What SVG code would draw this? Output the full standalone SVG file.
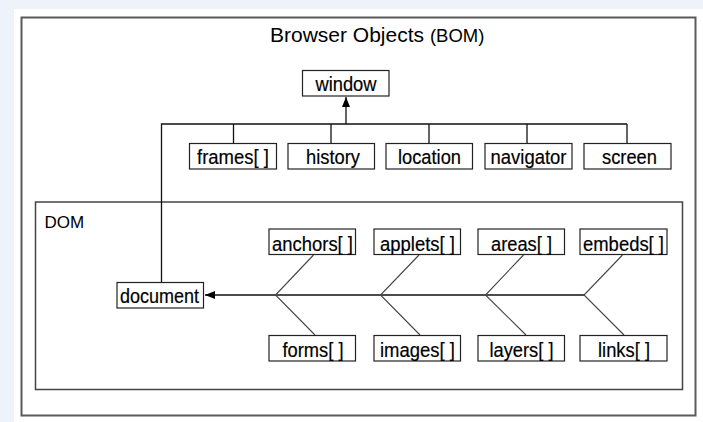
<svg xmlns="http://www.w3.org/2000/svg" width="703" height="422" viewBox="0 0 703 422">
<style>
.bx{fill:#fff;stroke:#222;stroke-width:1.2}
.t{font-family:"Liberation Sans",Arial,sans-serif;font-size:20.5px;fill:#000;stroke:#000;stroke-width:0.2;text-anchor:middle}
.ln{stroke:#111;stroke-width:1.3;fill:none}
.dg{stroke:#444;stroke-width:1.1;fill:none}
</style>
<defs>
<marker id="ah" markerWidth="10" markerHeight="8" refX="10" refY="4" orient="auto" markerUnits="userSpaceOnUse">
<path d="M0,0 L10,4 L0,8 Z" fill="#000"/>
</marker>
</defs>
<rect x="0" y="0" width="703" height="422" fill="#EEF2FA"/>
<rect x="14" y="9" width="689" height="413" fill="#fff"/>
<rect x="21.5" y="17.5" width="674" height="398" fill="none" stroke="#5a5a5a" stroke-width="2"/>
<text x="270" y="41.5" font-family="Liberation Sans,Arial,sans-serif" font-size="21" fill="#000">Browser Objects <tspan font-size="18.5">(BOM)</tspan></text>
<g id="dom-frame">
<rect x="35.5" y="202" width="647" height="187.5" fill="none" stroke="#444" stroke-width="1.5"/>
<text x="44.5" y="227.5" font-family="Liberation Sans,Arial,sans-serif" font-size="17" fill="#000">DOM</text>
</g>
<g id="connectors">
<line class="ln" x1="346" y1="124" x2="346" y2="97" marker-end="url(#ah)"/>
<polyline class="ln" points="161.5,282 161.5,124 627,124"/>
<line class="ln" x1="233.5" y1="124" x2="233.5" y2="143"/>
<line class="ln" x1="331" y1="124" x2="331" y2="143"/>
<line class="ln" x1="429" y1="124" x2="429" y2="143"/>
<line class="ln" x1="527" y1="124" x2="527" y2="143"/>
<line class="ln" x1="627" y1="124" x2="627" y2="143"/>
<line class="ln" x1="584" y1="295" x2="205" y2="295" marker-end="url(#ah)"/>
<polyline class="dg" points="313.5,255 275.5,295 315,335"/>
<polyline class="dg" points="419,255 380.5,295 420,335"/>
<polyline class="dg" points="523.5,255 485.5,295 526,335"/>
<polyline class="dg" points="622.5,255 584,295 624,335"/>
</g>
<g id="window"><rect class="bx" x="302.5" y="70.5" width="86.5" height="25.5"/><text class="t" x="346" y="90.5" textLength="61" lengthAdjust="spacingAndGlyphs">window</text></g>
<g id="frames"><rect class="bx" x="189.5" y="143.5" width="87" height="25.5"/><text class="t" x="233" y="164" textLength="72" lengthAdjust="spacingAndGlyphs">frames[ ]</text></g>
<g id="history"><rect class="bx" x="288" y="143.5" width="86.5" height="25.5"/><text class="t" x="333" y="164" textLength="54" lengthAdjust="spacingAndGlyphs">history</text></g>
<g id="location"><rect class="bx" x="386" y="143.5" width="86.5" height="25.5"/><text class="t" x="429.5" y="164" textLength="63" lengthAdjust="spacingAndGlyphs">location</text></g>
<g id="navigator"><rect class="bx" x="485" y="143.5" width="87" height="25.5"/><text class="t" x="528.5" y="164" textLength="76" lengthAdjust="spacingAndGlyphs">navigator</text></g>
<g id="screen"><rect class="bx" x="584" y="143.5" width="87" height="25.5"/><text class="t" x="629.5" y="164" textLength="55" lengthAdjust="spacingAndGlyphs">screen</text></g>
<g id="document"><rect class="bx" x="117" y="282.5" width="86.5" height="25.5"/><text class="t" x="159.5" y="302.5" textLength="79" lengthAdjust="spacingAndGlyphs">document</text></g>
<g id="anchors"><rect class="bx" x="269" y="229" width="86.5" height="25.5"/><text class="t" x="312.5" y="251" textLength="81" lengthAdjust="spacingAndGlyphs">anchors[ ]</text></g>
<g id="applets"><rect class="bx" x="374" y="229" width="86.5" height="25.5"/><text class="t" x="417.5" y="251" textLength="75" lengthAdjust="spacingAndGlyphs">applets[ ]</text></g>
<g id="areas"><rect class="bx" x="478" y="229" width="86.5" height="25.5"/><text class="t" x="521.5" y="251" textLength="61" lengthAdjust="spacingAndGlyphs">areas[ ]</text></g>
<g id="embeds"><rect class="bx" x="580" y="229" width="87" height="25.5"/><text class="t" x="623.5" y="251" textLength="81" lengthAdjust="spacingAndGlyphs">embeds[ ]</text></g>
<g id="forms"><rect class="bx" x="269" y="335.5" width="86.5" height="25.5"/><text class="t" x="313" y="356.5" textLength="61" lengthAdjust="spacingAndGlyphs">forms[ ]</text></g>
<g id="images"><rect class="bx" x="374" y="335.5" width="86.5" height="25.5"/><text class="t" x="417.5" y="356.5" textLength="75" lengthAdjust="spacingAndGlyphs">images[ ]</text></g>
<g id="layers"><rect class="bx" x="478" y="335.5" width="86.5" height="25.5"/><text class="t" x="521.5" y="356.5" textLength="64" lengthAdjust="spacingAndGlyphs">layers[ ]</text></g>
<g id="links"><rect class="bx" x="580" y="335.5" width="87" height="25.5"/><text class="t" x="624" y="356.5" textLength="52" lengthAdjust="spacingAndGlyphs">links[ ]</text></g>
</svg>
